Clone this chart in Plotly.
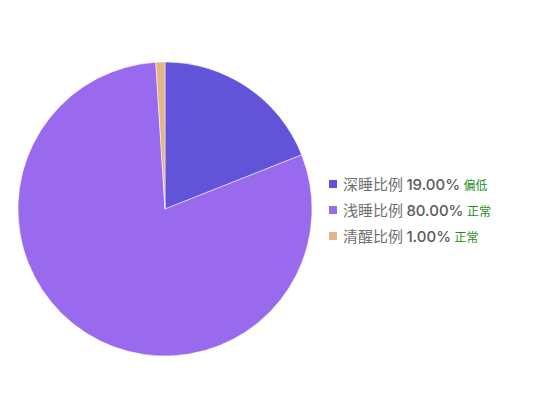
import plotly.graph_objects as go

labels = ["深睡比例", "浅睡比例", "清醒比例"]
values = [19.00, 80.00, 1.00]
status = ["偏低", "正常", "正常"]
colors = ["#6254d8", "#9a6aee", "#e4b487"]

W, H = 550, 420
OFF = 8  # page body margin

def px(x):
    return (x - OFF) / W

def py(y):
    return 1 - (y - OFF) / H

fig = go.Figure()
fig.add_trace(go.Pie(
    labels=labels, values=values, sort=False, direction="clockwise", rotation=0,
    marker=dict(colors=colors, line=dict(color="#ffffff", width=0.5)),
    textinfo="none", hoverinfo="label+percent", showlegend=False,
    domain=dict(x=[px(18), px(312)], y=[py(356), py(62)]),
))

ys = [184, 210, 236]
for i, lab in enumerate(labels):
    y = py(ys[i])
    fig.add_shape(type="rect", xref="paper", yref="paper",
                  x0=px(329), x1=px(337), y0=y - 4 / H, y1=y + 4 / H,
                  fillcolor=colors[i], line=dict(width=0))
    txt = (f"<span style='color:#707070;font-size:15px'>{lab}</span> "
           f"<span style='color:#5a5a5a;font-size:15px;font-family:Inter;font-weight:500'>{values[i]:.2f}%</span> "
           f"<span style='color:#1f8f1f;font-size:12px'>{status[i]}</span>")
    fig.add_annotation(x=px(341), y=y + 1 / H, xref="paper", yref="paper",
                       xanchor="left", yanchor="middle", showarrow=False, text=txt,
                       font=dict(family="Noto Sans CJK SC, sans-serif", size=15))

fig.update_layout(
    width=W, height=H, margin=dict(l=0, r=0, t=0, b=0),
    paper_bgcolor="white", plot_bgcolor="white",
    font=dict(family="Noto Sans CJK SC, sans-serif"),
)
fig.write_html("out.html")
